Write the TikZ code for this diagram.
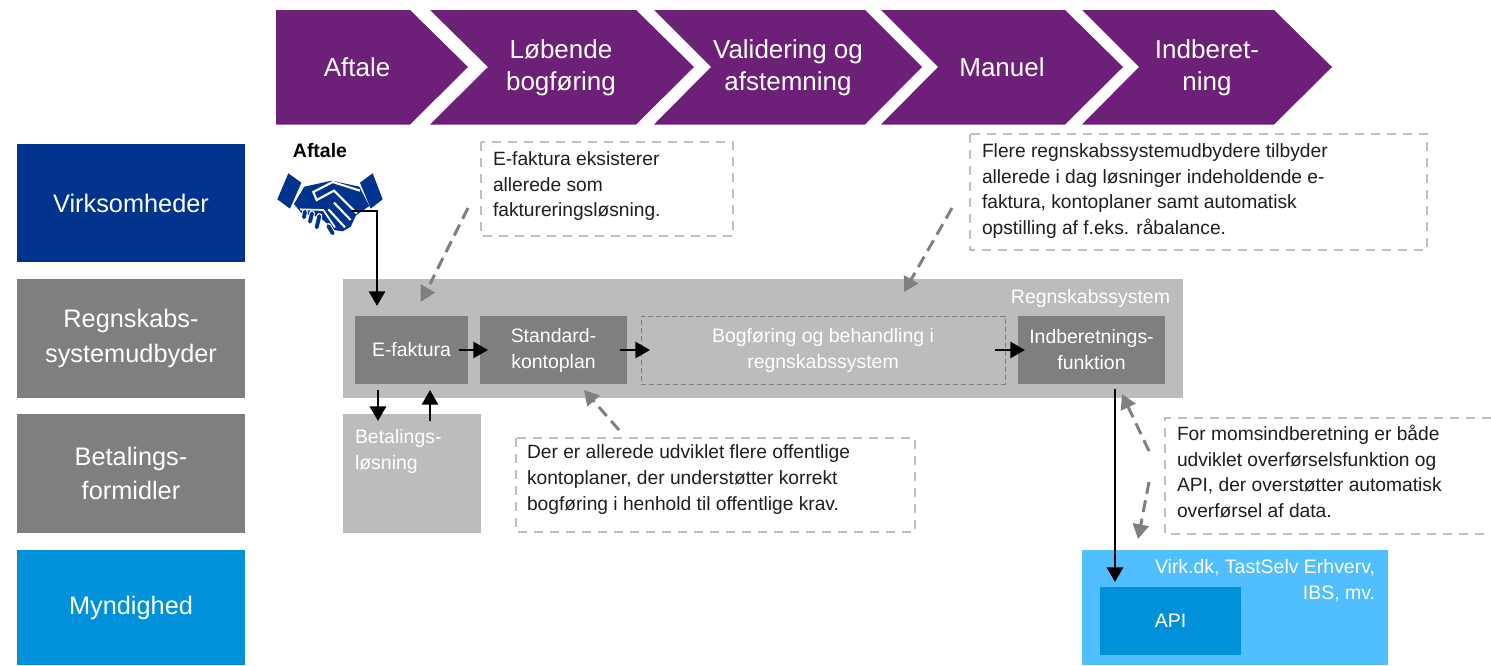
\documentclass[tikz,border=0pt]{standalone}
\usepackage{fontspec}
\setmainfont{Liberation Sans}
\usetikzlibrary{arrows.meta}
\definecolor{kpurple}{HTML}{6D2077}
\definecolor{kblue}{HTML}{00338D}
\definecolor{kgray}{HTML}{7F7F7F}
\definecolor{klight}{HTML}{BCBCBC}
\definecolor{kmid}{HTML}{0091DA}
\definecolor{ksky}{HTML}{50BEFF}
\definecolor{kdash}{HTML}{BFBFBF}
\definecolor{ktext}{HTML}{1E1E1E}
\tikzset{
  px/.style={inner sep=0pt,outer sep=0pt},
  headtext/.style={px,text=white,align=center,font=\fontsize{19.5pt}{24pt}\selectfont},
  sidebox/.style={px,minimum width=171pt,text=white,align=center,font=\fontsize{19pt}{26pt}\selectfont},
  innerbox/.style={px,text=white,align=center,font=\fontsize{14.6pt}{19.5pt}\selectfont},
  notetext/.style={px,text=ktext,align=left,font=\fontsize{14.4pt}{19.3pt}\selectfont},
  notebox/.style={draw=kdash,line width=1.5pt,dash pattern=on 6.5pt off 5.5pt},
  blackarr/.style={draw=black,line width=2.2pt,-{Triangle[length=11pt,width=12pt]}},
  grayarr/.style={draw=kgray,line width=2.2pt,dash pattern=on 9pt off 5pt,-{Triangle[length=11pt,width=12pt,color=kgray]}},
  grayline/.style={draw=kgray,line width=2.2pt,dash pattern=on 9pt off 5pt}
}
\begin{document}
\begin{tikzpicture}[x=0.75pt,y=-0.75pt]
\useasboundingbox (0,0) rectangle (1491,665);
% process chevrons
\fill[kpurple] (276,10)--(410,10)--(468,67)--(410,124.5)--(276,124.5)--cycle;
\fill[kpurple] (430,10)--(636,10)--(694,67)--(636,124.5)--(430,124.5)--(488,67)--cycle;
\fill[kpurple] (654,10)--(865,10)--(922,67)--(865,124.5)--(654,124.5)--(711,67)--cycle;
\fill[kpurple] (881,10)--(1065,10)--(1123,67)--(1065,124.5)--(881,124.5)--(938,67)--cycle;
\fill[kpurple] (1082,10)--(1274,10)--(1332,67)--(1274,124.5)--(1082,124.5)--(1139,67)--cycle;
\node[headtext] (h1) at (357,67) {Aftale};
\node[headtext] (h2) at (561,68) {Løbende\\bogføring};
\node[headtext] (h3) at (788,68) {Validering og\\afstemning};
\node[headtext] (h4) at (1002,67) {Manuel};
\node[headtext] (h5) at (1207,68) {Indberet-\\ning};
% actors
\node[sidebox,fill=kblue,minimum height=88.5pt] (a1) at (131,203) {Virksomheder};
\node[sidebox,fill=kgray,minimum height=89pt] (a2) at (131,338.5) {Regnskabs-\\systemudbyder};
\node[sidebox,fill=kgray,minimum height=89pt] (a3) at (131,473.5) {Betalings-\\formidler};
\node[sidebox,fill=kmid,minimum height=86.25pt] (a4) at (131,607.5) {Myndighed};
% big boxes
\fill[klight] (343,279) rectangle (1183,398);
\fill[klight] (343,414) rectangle (481,533);
\fill[ksky] (1082,550) rectangle (1388,665);
\node[px,text=white,anchor=north east,font=\fontsize{14.6pt}{19.5pt}\selectfont] (rs) at (1170,289) {Regnskabssystem};
\node[innerbox,fill=kgray,minimum width=84.75pt,minimum height=51pt] (ef) at (411.5,350) {E-faktura};
\node[innerbox,fill=kgray,minimum width=110.25pt,minimum height=51pt] (sk) at (553.5,350) {Standard-\\kontoplan};
\node[innerbox,draw=kgray,line width=0.75pt,dash pattern=on 3.5pt off 2.5pt,minimum width=273pt,minimum height=51pt] (bf) at (823,350) {Bogføring og behandling i\\regnskabssystem};
\node[innerbox,fill=kgray,minimum width=110.25pt,minimum height=51pt] (ib) at (1091.5,350) {Indberetnings-\\funktion};
\node[innerbox,anchor=north west,align=left] (bl) at (355,429) {Betalings-\\løsning};
\node[px,text=white,align=right,anchor=north east,font=\fontsize{14.6pt}{19.5pt}\selectfont] (vd) at (1375,559) {Virk.dk, TastSelv Erhverv,\\IBS, mv.};
\node[innerbox,fill=kmid,minimum width=105.75pt,minimum height=51pt] (api) at (1170.5,621) {API};
% notes
\draw[notebox] (481,142) rectangle (733,236);
\node[notetext,anchor=north west] (n1) at (493,151.5) {E-faktura eksisterer\\allerede som\\faktureringsløsning.};
\draw[notebox] (970,134) rectangle (1427,250);
\node[notetext,anchor=north west] (n2) at (982,143.5) {Flere regnskabssystemudbydere tilbyder\\allerede i dag løsninger indeholdende e-\\faktura, kontoplaner samt automatisk\\opstilling af f.eks. råbalance.};
\draw[notebox] (516,438) rectangle (915,532);
\node[notetext,anchor=north west] (n3) at (527,445) {Der er allerede udviklet flere offentlige\\kontoplaner, der understøtter korrekt\\bogføring i henhold til offentlige krav.};
\draw[notebox] (1491,418)--(1165,418)--(1165,534)--(1491,534);
\node[notetext,anchor=north west] (n4) at (1177,425) {For momsindberetning er både\\udviklet overførselsfunktion og\\API, der overstøtter automatisk\\overførsel af data.};
% handshake
\begin{scope}[shift={(260,130)},x=0.25pt,y=-0.25pt]
\fill[kblue] (85,130)--(124,158)--(90,236)--(52,208)--cycle;
\fill[kblue] (338,130)--(300,158)--(332,236)--(368,208)--cycle;
\fill[kblue] (133,170)--(215,152)--(298,170)--(328,228)--(288,256)--(272,290)--(248,304)--(222,300)--(180,262)--(125,250)--(102,222)--cycle;
\draw[white,line width=1.6pt,line join=miter] (300,182)--(218,156)--(160,186)--(170,210)--(222,182)--(290,250);
\draw[white,line width=1.6pt] (205,238)--(255,292);
\draw[white,line width=1.6pt] (222,218)--(272,270);
\draw[white,line width=1.3pt] (120,238)--(190,240)--(225,292);
\foreach \ax/\ay/\bx/\by in {135/245/132/262,156/250/150/275,178/258/170/292,205/288/218/310}{
  \draw[white,line width=4.4pt,line cap=round] (\ax,\ay)--(\bx,\by);
  \draw[kblue,line width=2.9pt,line cap=round] (\ax,\ay)--(\bx,\by);
}
\end{scope}
\node[px,anchor=center,font=\bfseries\fontsize{14.6pt}{18pt}\selectfont] (af) at (320,151) {Aftale};
% connector ends
\coordinate (c0) at (351,211);
\coordinate (c1) at (377,211);
\coordinate (c2) at (377,306);
\coordinate (c3) at (459,350);
\coordinate (c4) at (488,350);
\coordinate (c5) at (620,350);
\coordinate (c6) at (650,350);
\coordinate (c7) at (995,350);
\coordinate (c8) at (1025,350);
\coordinate (c9) at (378,390);
\coordinate (c10) at (378,421);
\coordinate (c11) at (430,421);
\coordinate (c12) at (430,390);
\coordinate (c13) at (1115,389);
\coordinate (c14) at (1115,582);
\coordinate (d1) at (468,208);
\coordinate (d2) at (430,284);
\coordinate (d3) at (952,208);
\coordinate (d4) at (904,292);
\coordinate (d5) at (619,430);
\coordinate (d6) at (584,390);
\coordinate (d7) at (1149,451);
\coordinate (d8) at (1122,394);
\coordinate (d9) at (1149,482);
\coordinate (d10) at (1138,539);
% connectors
\draw[blackarr] (c0)--(c1)--(c2);
\draw[blackarr] (c3)--(c4);
\draw[blackarr] (c5)--(c6);
\draw[blackarr] (c7)--(c8);
\draw[blackarr] (c9)--(c10);
\draw[blackarr] (c11)--(c12);
\draw[blackarr] (c13)--(c14);
\draw[grayline] (d1)--(d2);
\fill[kgray] (420.5,284)--(435,292.5)--(420.5,302)--cycle;
\draw[grayarr] (d3)--(d4);
\draw[grayarr] (d5)--(d6);
\draw[grayarr] (d7)--(d8);
\draw[grayarr] (d9)--(d10);
\end{tikzpicture}
\end{document}
